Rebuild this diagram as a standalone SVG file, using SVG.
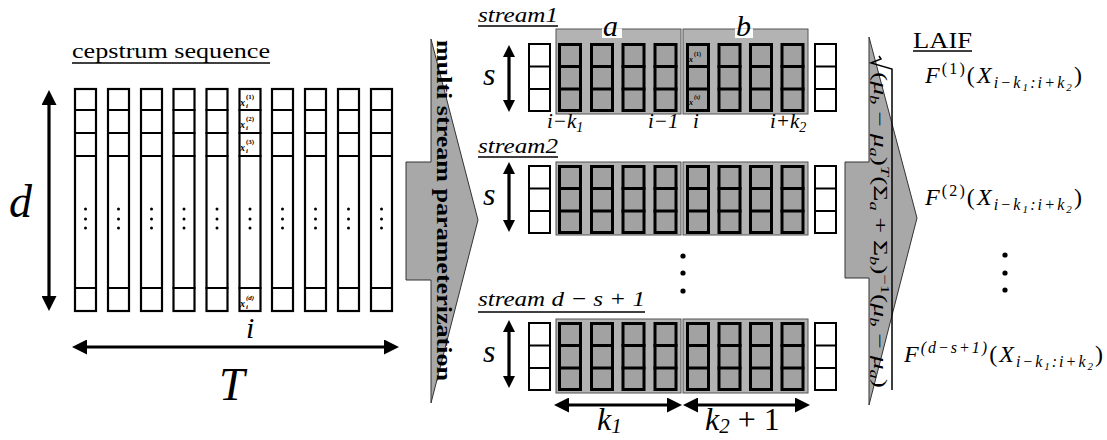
<svg xmlns="http://www.w3.org/2000/svg" xmlns:xlink="http://www.w3.org/1999/xlink" width="1107" height="440" viewBox="0 0 1107 440">
<style>
.t{font-family:"Liberation Serif","Times New Roman",serif;fill:#000}
.it{font-style:italic}
.up{font-style:normal}
.bd{font-weight:bold}
.ul{stroke:#000;stroke-width:1.6}
.arr{stroke:#000;stroke-width:3.2;fill:none}
.blk{fill:#b3b3b3;stroke:#555;stroke-width:1}
.barrow{fill:#a8a8a8;stroke:#333;stroke-width:1}
</style>
<defs>
<marker id="ah" viewBox="0 0 15 15" markerWidth="15" markerHeight="15" refX="11" refY="7.5" orient="auto-start-reverse" markerUnits="userSpaceOnUse"><path d="M0,0L15,7.5L0,15z" fill="#000"/></marker>
<marker id="as" viewBox="0 0 12 12" markerWidth="12" markerHeight="12" refX="8" refY="6" orient="auto-start-reverse" markerUnits="userSpaceOnUse"><path d="M0,0L12,6L0,12z" fill="#000"/></marker>
<g id="cep">
<rect x="1" y="1" width="21" height="222" fill="#fff" stroke="#000" stroke-width="2.2"/>
<path d="M0,22H23M0,45H23M0,68H23M0,200H23" stroke="#000" stroke-width="2.2"/>
<circle cx="11.5" cy="121" r="1.5"/><circle cx="11.5" cy="131" r="1.5"/><circle cx="11.5" cy="140" r="1.5"/>
</g>
<g id="wcol"><rect x="1" y="1" width="21" height="67" fill="#fff" stroke="#000" stroke-width="2"/><path d="M0,23.5H23M0,46H23" stroke="#000" stroke-width="2"/></g>
<g id="gcol"><rect x="1.5" y="1.5" width="21" height="66" fill="#a2a2a2" stroke="#000" stroke-width="3"/><path d="M0,23.5H24M0,46H24" stroke="#000" stroke-width="3"/></g>
<g id="cols">
<use xlink:href="#gcol" x="558"/><use xlink:href="#gcol" x="590"/><use xlink:href="#gcol" x="621.5"/><use xlink:href="#gcol" x="653.5"/>
<use xlink:href="#gcol" x="686"/><use xlink:href="#gcol" x="717.5"/><use xlink:href="#gcol" x="749"/><use xlink:href="#gcol" x="780.5"/>
<use xlink:href="#wcol" x="528"/><use xlink:href="#wcol" x="814"/>
</g>
</defs>
<rect width="1107" height="440" fill="#fff"/>

<g id="cepstrum">
<text class="t" x="72" y="58" font-size="21" textLength="198" lengthAdjust="spacingAndGlyphs">cepstrum sequence</text>
<line class="ul" x1="72" y1="63" x2="270" y2="63"/>
<use xlink:href="#cep" x="74" y="88"/><use xlink:href="#cep" x="107" y="88"/><use xlink:href="#cep" x="140" y="88"/>
<use xlink:href="#cep" x="172.5" y="88"/><use xlink:href="#cep" x="205.5" y="88"/><use xlink:href="#cep" x="238.5" y="88"/>
<use xlink:href="#cep" x="271" y="88"/><use xlink:href="#cep" x="304" y="88"/><use xlink:href="#cep" x="337" y="88"/>
<use xlink:href="#cep" x="370" y="88"/>
<g class="t it bd" font-size="10">
<text x="240" y="106">x</text><text x="240" y="128">x</text><text x="240" y="151">x</text><text x="240" y="307">x</text>
</g>
<g class="t bd" font-size="7">
<text x="246" y="99">(1)</text><text x="246" y="121">(2)</text><text x="246" y="144">(3)</text><text x="246" y="300" class="t bd it">(d)</text>
<text x="246" y="108" class="t it bd">i</text><text x="246" y="130" class="t it bd">i</text><text x="246" y="153" class="t it bd">i</text><text x="246" y="309" class="t it bd">i</text>
</g>
<text class="t it" x="9" y="217" font-size="46">d</text>
<text class="t it" x="246" y="338" font-size="30">i</text>
<text class="t it" x="219" y="400" font-size="46">T</text>
</g>

<g id="multi-stream-arrow">
<polygon class="barrow" points="406,162 431,162 431,39 478,220 431,403 431,280 406,280"/>
<text class="t bd" transform="translate(437,40) rotate(90)" font-size="21" textLength="341" lengthAdjust="spacingAndGlyphs">multi stream parameterization</text>
</g>

<g id="stream1">
<text class="t it" x="478" y="22" font-size="22" textLength="80" lengthAdjust="spacingAndGlyphs">stream1</text>
<line class="ul" x1="478" y1="26" x2="558" y2="26"/>
<text class="t it" x="483" y="85" font-size="32">s</text>
<rect class="blk" x="556" y="29" width="125" height="85"/>
<rect class="blk" x="683" y="29" width="125" height="85"/>
<rect x="602" y="28.5" width="20" height="9.5" fill="#fff"/>
<rect x="735" y="28.5" width="18" height="9.5" fill="#fff"/>
<text class="t it" x="603" y="36" font-size="30">a</text>
<text class="t it" x="736" y="36" font-size="30">b</text>
<use xlink:href="#cols" y="43"/>
<g class="t it bd" font-size="8" fill="#111"><text x="689" y="62">x</text><text x="689" y="105">x</text></g>
<g class="t bd" font-size="6"><text x="694" y="56">(1)</text><text x="694" y="99" class="t bd it">(s)</text></g>
<g class="t it" font-size="21">
<text x="547" y="128">i−k<tspan font-size="14" dy="4">1</tspan></text>
<text x="648" y="128">i−1</text>
<text x="693" y="128">i</text>
<text x="770" y="128">i+k<tspan font-size="14" dy="4">2</tspan></text>
</g>
</g>

<g id="stream2">
<text class="t it" x="478" y="153" font-size="22" textLength="80" lengthAdjust="spacingAndGlyphs">stream2</text>
<line class="ul" x1="478" y1="157" x2="558" y2="157"/>
<text class="t it" x="483" y="205" font-size="32">s</text>
<rect class="blk" x="556" y="162" width="125" height="73"/>
<rect class="blk" x="683" y="162" width="125" height="73"/>
<use xlink:href="#cols" y="165"/>
</g>

<g id="vdots-mid">
<circle cx="683" cy="256" r="2.6"/><circle cx="683" cy="273" r="2.6"/><circle cx="683" cy="291" r="2.6"/>
</g>

<g id="stream3">
<text class="t it" x="478" y="306" font-size="22" textLength="167" lengthAdjust="spacingAndGlyphs">stream d − s + 1</text>
<line class="ul" x1="478" y1="312" x2="645" y2="312"/>
<text class="t it" x="483" y="362" font-size="32">s</text>
<rect class="blk" x="556" y="319" width="125" height="74"/>
<rect class="blk" x="683" y="319" width="125" height="74"/>
<use xlink:href="#cols" y="322"/>
<text class="t it" x="597" y="430" font-size="32">k<tspan font-size="21" dy="3">1</tspan></text>
<text class="t it" x="705" y="430" font-size="32">k<tspan font-size="21" dy="3">2</tspan><tspan class="up" dy="-3"> + 1</tspan></text>
</g>

<g id="laif-arrow">
<polygon class="barrow" points="845,162 869,162 869,37 917,218 869,405 869,278 845,278"/>
<path d="M879,56 L881,59 L871,63 L892,69 L892,390" fill="none" stroke="#000" stroke-width="1.5"/>
<text class="t it" transform="translate(874,72) rotate(90)" font-size="18" textLength="316" lengthAdjust="spacingAndGlyphs"><tspan class="up">(</tspan>μ<tspan font-size="12" dy="4">b</tspan><tspan class="up" dy="-4"> − </tspan>μ<tspan font-size="12" dy="4">a</tspan><tspan class="up" dy="-4">)</tspan><tspan font-size="12" dy="-7">T</tspan><tspan class="up" dy="7">(Σ</tspan><tspan font-size="12" dy="4">a</tspan><tspan class="up" dy="-4"> + Σ</tspan><tspan font-size="12" dy="4">b</tspan><tspan class="up" dy="-4">)</tspan><tspan class="up" font-size="12" dy="-7">−1</tspan><tspan class="up" dy="7">(</tspan>μ<tspan font-size="12" dy="4">b</tspan><tspan class="up" dy="-4"> − </tspan>μ<tspan font-size="12" dy="4">a</tspan><tspan class="up" dy="-4">)</tspan></text>
</g>

<g id="laif">
<text class="t" x="913" y="48" font-size="23" textLength="59" lengthAdjust="spacingAndGlyphs">LAIF</text>
<line class="ul" x1="913" y1="51" x2="972" y2="51"/>
<text class="t it" x="925" y="83" font-size="24" textLength="157" lengthAdjust="spacing">F<tspan class="up" font-size="16" dy="-9">(1)</tspan><tspan class="up" dy="9">(</tspan>X<tspan font-size="16" dy="5">i−k</tspan><tspan font-size="11" dy="3">1</tspan><tspan font-size="16" dy="-3">:i+k</tspan><tspan font-size="11" dy="3">2</tspan><tspan class="up" dy="-8">)</tspan></text>
<text class="t it" x="925" y="205" font-size="24" textLength="157" lengthAdjust="spacing">F<tspan class="up" font-size="16" dy="-9">(2)</tspan><tspan class="up" dy="9">(</tspan>X<tspan font-size="16" dy="5">i−k</tspan><tspan font-size="11" dy="3">1</tspan><tspan font-size="16" dy="-3">:i+k</tspan><tspan font-size="11" dy="3">2</tspan><tspan class="up" dy="-8">)</tspan></text>
<circle cx="1005" cy="255" r="2.6"/><circle cx="1005" cy="273" r="2.6"/><circle cx="1005" cy="290" r="2.6"/>
<text class="t it" x="904" y="362" font-size="24" textLength="199" lengthAdjust="spacing">F<tspan font-size="16" dy="-9">(d−s+1)</tspan><tspan class="up" dy="9">(</tspan>X<tspan font-size="16" dy="5">i−k</tspan><tspan font-size="11" dy="3">1</tspan><tspan font-size="16" dy="-3">:i+k</tspan><tspan font-size="11" dy="3">2</tspan><tspan class="up" dy="-8">)</tspan></text>
</g>

<g id="connectors">
<line class="arr" x1="49" y1="94" x2="49" y2="307" marker-start="url(#ah)" marker-end="url(#ah)"/>
<line class="arr" x1="76" y1="347" x2="395" y2="347" marker-start="url(#ah)" marker-end="url(#ah)"/>
<line class="arr" x1="509" y1="49" x2="509" y2="108" marker-start="url(#as)" marker-end="url(#as)"/>
<line class="arr" x1="509" y1="166" x2="509" y2="228" marker-start="url(#as)" marker-end="url(#as)"/>
<line class="arr" x1="509" y1="324" x2="509" y2="384" marker-start="url(#as)" marker-end="url(#as)"/>
<line class="arr" x1="558" y1="405" x2="678" y2="405" marker-start="url(#ah)" marker-end="url(#ah)"/>
<line class="arr" x1="687" y1="405" x2="806" y2="405" marker-start="url(#ah)" marker-end="url(#ah)"/>
</g>
</svg>
